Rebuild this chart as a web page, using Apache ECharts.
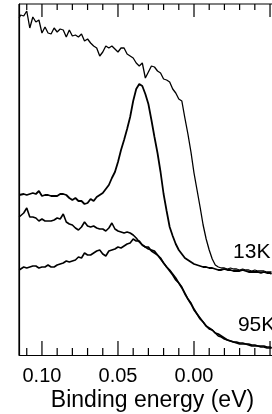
<!DOCTYPE html>
<html>
<head>
<meta charset="utf-8">
<script src="https://cdn.jsdelivr.net/npm/echarts@6/dist/echarts.min.js"></script>
<style>
html,body{margin:0;padding:0;background:#fff;}
#chart{width:272px;height:414px;}
</style>
</head>
<body>
<div id="chart"></div>
<script>
// Binding energy (eV), common sampling grid
var energy = [0.115,0.114,0.112,0.110,0.108,0.106,0.104,0.102,0.100,0.098,0.096,0.094,0.092,0.090,0.088,0.086,0.084,0.082,0.080,0.078,0.076,0.074,0.072,0.070,0.068,0.066,0.064,0.062,0.060,0.058,0.056,0.054,0.052,0.050,0.048,0.046,0.044,0.042,0.040,0.038,0.036,0.034,0.032,0.030,0.028,0.026,0.024,0.022,0.020,0.018,0.016,0.014,0.012,0.010,0.008,0.006,0.004,0.002,0.000,-0.002,-0.004,-0.006,-0.008,-0.010,-0.012,-0.014,-0.016,-0.018,-0.020,-0.022,-0.024,-0.026,-0.028,-0.030,-0.032,-0.034,-0.036,-0.038,-0.040,-0.042,-0.044,-0.046,-0.048,-0.050,-0.051];

// Intensities (arb. units, with vertical offsets as in the figure)
var k13Broad = [337,340,339,344,327,338,333,335,322,328,322,321,327,323,326,325,318,325,319,320,318,321,314,316,312,309,307,299,303,309,307,309,306,303,307,307,301,299,297,292,289,292,277,283,289,288,284,282,276,275,273,266,262,256,254,237,221,203,182,165,148,130,116,105,96,90,88,87,87,86,87,86,86,85,86,85,85,84,85,84,84,84,83,83,83];
var k13Peak = [160,162,161,160,161,162,161,164,159,160,160,159,159,159,161,161,160,157,155,157,154,154,151,152,156,154,158,160,162,166,170,177,183,193,205,215,226,238,254,266,271,269,261,251,235,218,202,183,161,144,128,119,111,105,101,97,95,93,91,90,89,88,88,87,87,86,85,85,86,85,85,84,84,84,85,84,83,83,83,83,82,83,82,82,81];
var k95Upper = [138,139,142,147,138,138,137,134,136,134,134,134,135,137,136,141,133,131,130,127,125,128,133,129,128,129,127,126,126,124,127,132,126,124,123,122,123,122,120,117,113,110,108,106,105,104,100,97,92,88,85,81,77,72,68,62,56,51,45,41,36,33,29,26,25,22,19,18,16,15,14,13,13,12,12,11,11,10,10,9,9,9,8,8,7];
var k95Lower = [85,87,88,87,88,89,89,87,88,88,90,88,88,90,91,92,94,93,94,95,98,97,102,100,100,102,104,105,101,99,104,105,106,108,107,109,111,112,116,114,114,110,108,108,104,102,100,96,92,88,84,80,75,72,67,61,56,52,46,41,37,33,29,27,25,22,21,19,17,15,14,13,12,11,11,11,10,9,9,9,8,8,7,7,7];

var majorTicks = [0.10, 0.05, 0.00, -0.05];
var minorTicks = [0.11, 0.09, 0.08, 0.07, 0.06, 0.04, 0.03, 0.02, 0.01, -0.01, -0.02, -0.03, -0.04];
var tickLabels = [0.10, 0.05, 0.00];
var axisTitle = 'Binding energy (eV)';
var curveLabels = [
  {text: '13K', e: -0.0257, v: 103},
  {text: '95K', e: -0.0289, v: 29.5}
];

var FONT = "'Liberation Sans', Arial, Helvetica, sans-serif";
var xMin = -0.0513, xMax = 0.1151, yMin = 0, yMax = 351;
var GRID = {left: 19, top: 4, right: 0, bottom: 59};
var CHART_H = 414;

function zip(xs, ys) { return xs.map(function (x, i) { return [x, ys[i]]; }); }

// y-units per pixel of the plot area (used to express tick lengths)
var u = (yMax - yMin) / (CHART_H - GRID.top - GRID.bottom);

// Frame ticks as short vertical segments (inside, bottom and top)
function tickData(list, lenBottom, lenTop) {
  var d = [];
  list.forEach(function (e) {
    d.push([e, yMin], [e, yMin + lenBottom * u], [e, '-']);
    d.push([e, yMax], [e, yMax - lenTop * u], [e, '-']);
  });
  return d;
}

function frameSeries(name, data) {
  return {
    name: name, type: 'line', data: data, showSymbol: false, symbol: 'none',
    connectNulls: false, clip: false, silent: true, z: 3,
    lineStyle: {color: '#000', width: 1.2}, itemStyle: {color: '#000'}
  };
}

function lineSeries(name, vals, w) {
  return {
    name: name, type: 'line', data: zip(energy, vals), showSymbol: false,
    lineStyle: {color: '#000', width: w}, itemStyle: {color: '#000'}
  };
}

var chart = echarts.init(document.getElementById('chart'));

chart.setOption({
  animation: false,
  grid: {left: GRID.left, top: GRID.top, right: GRID.right, bottom: GRID.bottom, outerBoundsMode: 'none'},
  xAxis: {
    type: 'value', position: 'bottom', min: xMin, max: xMax, inverse: true,
    splitLine: {show: false},
    axisLine: {show: true, onZero: false, lineStyle: {color: '#000', width: 1.2}},
    axisTick: {show: false},
    axisLabel: {
      show: true, customValues: tickLabels, margin: 11,
      formatter: function (v) { return Number(v).toFixed(2); },
      color: '#000', fontSize: 20, fontFamily: FONT
    }
  },
  yAxis: {
    type: 'value', min: yMin, max: yMax,
    splitLine: {show: false},
    axisLine: {show: true, onZero: false, lineStyle: {color: '#000', width: 1.2}},
    axisTick: {show: false}, axisLabel: {show: false}
  },
  series: [
    lineSeries('13K broad', k13Broad, 1.3),
    lineSeries('13K peak', k13Peak, 1.8),
    lineSeries('95K upper', k95Upper, 1.6),
    lineSeries('95K lower', k95Lower, 1.6),
    frameSeries('major ticks', tickData(majorTicks, 14, 13)),
    frameSeries('minor ticks', tickData(minorTicks, 7, 6)),
    frameSeries('top edge', [[xMax, yMax], [xMin, yMax]]),
    frameSeries('left edge', [[xMax, yMin], [xMax, yMax]])
  ]
});

var g = curveLabels.map(function (c) {
  var p = chart.convertToPixel({xAxisIndex: 0, yAxisIndex: 0}, [c.e, c.v]);
  return {
    type: 'text', x: p[0], y: p[1],
    style: {text: c.text, fill: '#000', fontSize: 21, fontFamily: FONT, align: 'left', verticalAlign: 'middle'}
  };
});
g.push({
  type: 'text', x: 152.5, y: 401,
  style: {text: axisTitle, fill: '#000', fontSize: 23, fontFamily: FONT, align: 'center', verticalAlign: 'middle'}
});
chart.setOption({graphic: g});
</script>
</body>
</html>
